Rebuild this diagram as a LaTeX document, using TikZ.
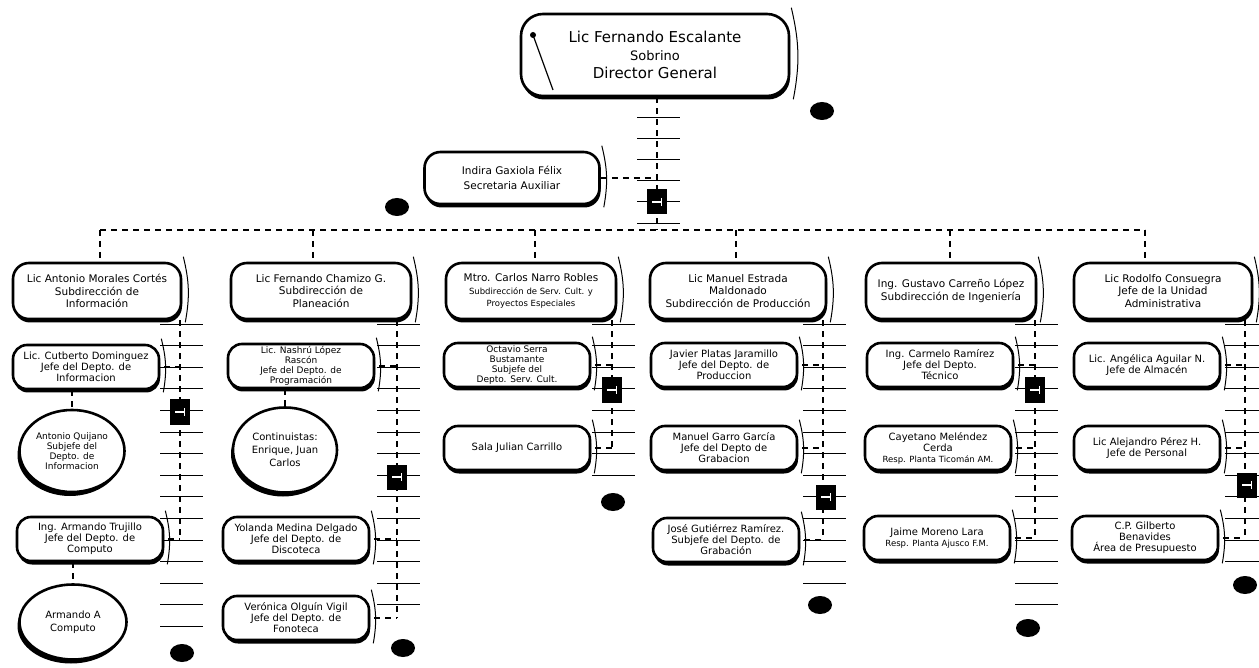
\documentclass[tikz,border=0pt]{standalone}
\usepackage{fontspec}
\setmainfont{DejaVu Sans}
\usetikzlibrary{shapes.geometric,shadows}

\begin{document}
\begin{tikzpicture}[x=1pt,y=-1pt,
 pill/.style={draw,fill=white,line width=2.6pt,rounded corners=16pt,align=center,inner sep=1pt,
  drop shadow={shadow xshift=1pt,shadow yshift=-3.5pt,fill=black,opacity=1}},
 subd/.style={pill,minimum width=170pt,minimum height=56pt,font=\fontsize{10.5}{12.5}\selectfont},
 jefe/.style={pill,minimum width=146pt,minimum height=44pt,rounded corners=14pt,font=\fontsize{10}{11}\selectfont},
 oval/.style={ellipse,draw,fill=white,line width=2.6pt,align=center,inner sep=0pt,font=\fontsize{9}{10}\selectfont,
  drop shadow={shadow xshift=-2pt,shadow yshift=-4pt,fill=black,opacity=1}},
 blob/.style={ellipse,fill=black,minimum width=24pt,minimum height=18pt,inner sep=0pt},
 gate/.style={fill=black,minimum width=20pt,minimum height=25pt,inner sep=0pt},
 conn/.style={line width=1.6pt,dash pattern=on 6pt off 5pt},
 rule/.style={line width=0.8pt},
 rim/.style={line width=1pt}]
\useasboundingbox (0,0) rectangle (1259,668);
% ruled ticks along the buses
\foreach \x/\n in {180/14,397/13,612/7,823/12,1035/13,1245/11}
 \foreach \k in {0,...,\n}
  \draw[rule] (\x-20,324+21.6*\k) -- (\x+23,324+21.6*\k);
\foreach \k in {0,...,5} \draw[rule] (637,117+21.2*\k) -- (680,117+21.2*\k);
% director and secretary
\node[pill,minimum width=268pt,minimum height=82pt,rounded corners=22pt,font=\fontsize{15}{18}\selectfont] (dg) at (655,55)
 {Lic Fernando Escalante\\{\fontsize{13}{18}\selectfont Sobrino}\\Director General};
\fill (533,35) circle (3pt);
\draw[line width=1.2pt] (533,35) -- (553,90);
\node[pill,minimum width=175pt,minimum height=52pt,font=\fontsize{10.5}{15}\selectfont] (sec) at (512,178)
 {Indira Gaxiola Félix\\Secretaria Auxiliar};
% subdirections
\node[subd,minimum width=168pt] (s1) at (97,291) {Lic Antonio Morales Cortés\\Subdirección de\\Información};
\node[subd,minimum width=180pt] (s2) at (321,291) {Lic Fernando Chamizo G.\\Subdirección de\\Planeación};
\node[subd] (s3) at (531,291) {Mtro. Carlos Narro Robles\\{\fontsize{8.5}{12}\selectfont Subdirección de Serv. Cult. y}\\{\fontsize{8.5}{12}\selectfont Proyectos Especiales}};
\node[subd,minimum width=176pt] (s4) at (738,291) {Lic Manuel Estrada\\Maldonado\\Subdirección de Producción};
\node[subd] (s5) at (951,291) {Ing. Gustavo Carreño López\\Subdirección de Ingeniería};
\node[subd,minimum width=178pt] (s6) at (1163,291) {Lic Rodolfo Consuegra\\Jefe de la Unidad\\Administrativa};
% departments
\node[jefe] (j1a) at (86,367) {Lic. Cutberto Dominguez\\Jefe del Depto. de\\Informacion};
\node[oval,minimum width=105pt,minimum height=82pt] (o1b) at (72,451) {Antonio Quijano\\Subjefe del\\Depto. de\\Informacion};
\node[jefe] (j1c) at (90,539) {Ing. Armando Trujillo\\Jefe del Depto. de\\Computo};
\node[oval,minimum width=107pt,minimum height=75pt,font=\fontsize{10}{13}\selectfont] (o1d) at (73,622) {Armando A\\Computo};
\node[jefe,font=\fontsize{9}{9.8}\selectfont] (j2a) at (301,366) {Lic. Nashrú López\\Rascón\\Jefe del Depto. de\\Programación};
\node[oval,minimum width=104pt,minimum height=85pt,font=\fontsize{10}{13}\selectfont] (o2b) at (285,450) {Continuistas:\\Enrique, Juan\\Carlos};
\node[jefe] (j2c) at (296,539) {Yolanda Medina Delgado\\Jefe del Depto. de\\Discoteca};
\node[jefe] (j2d) at (296,618) {Verónica Olguín Vigil\\Jefe del Depto. de\\Fonoteca};
\node[jefe,font=\fontsize{9}{9.8}\selectfont] (j3a) at (517,365) {Octavio Serra\\Bustamante\\Subjefe del\\Depto. Serv. Cult.};
\node[jefe] (j3b) at (517,448) {Sala Julian Carrillo};
\node[jefe] (j4a) at (724,365) {Javier Platas Jaramillo\\Jefe del Depto. de\\Produccion};
\node[jefe] (j4b) at (724,448) {Manuel Garro García\\Jefe del Depto de\\Grabacion};
\node[jefe] (j4c) at (726,540) {José Gutiérrez Ramírez.\\Subjefe del Depto. de\\Grabación};
\node[jefe] (j5a) at (940,365) {Ing. Carmelo Ramírez\\Jefe del Depto.\\Técnico};
\node[jefe] (j5b) at (938,448) {Cayetano Meléndez\\Cerda\\{\fontsize{8.5}{10}\selectfont Resp. Planta Ticomán AM.}};
\node[jefe] (j5c) at (937,538) {Jaime Moreno Lara\\{\fontsize{8.5}{11}\selectfont Resp. Planta Ajusco F.M.}};
\node[jefe] (j6a) at (1147,365) {Lic. Angélica Aguilar N.\\Jefe de Almacén};
\node[jefe] (j6b) at (1147,448) {Lic Alejandro Pérez H.\\Jefe de Personal};
\node[jefe] (j6c) at (1145,538) {C.P. Gilberto\\Benavides\\Área de Presupuesto};
% outer rims of the boxes
\foreach \n in {dg,sec,s1,s2,s3,s4,s5,s6,j1a,j1c,j2a,j2c,j2d,j3a,j3b,j4a,j4b,j4c,j5a,j5b,j5c,j6a,j6b,j6c}
 \draw[rim] ([xshift=1pt,yshift=5pt]\n.north east) to[bend left=12] ([xshift=3pt,yshift=-2pt]\n.south east);
% main dashed lines
\coordinate (hub) at (657,230);
\foreach \i/\x in {1/100,2/313,3/535,4/736,5/950,6/1145}
 \coordinate (sp\i) at (\x,230);
\draw[conn] (dg.south -| hub) -- (hub);
\draw[conn] (sec.east) -- (sec.east -| hub);
\draw[conn] (sp1) -- (sp6);
\foreach \i in {1,...,6} \draw[conn] (sp\i) -- (sp\i |- s\i.north);
% buses under each subdirection
\foreach \i/\x/\last in {1/180/j1c,2/397/j2d,3/612/j3b,4/823/j4c,5/1035/j5c,6/1245/j6c}{
 \coordinate (b\i) at (\x,0);
 \draw[conn] (b\i |- s\i.south) -- (b\i |- \last.east);
}
\foreach \n/\i in {j1a/1,j1c/1,j2a/2,j2c/2,j2d/2,j3a/3,j3b/3,j4a/4,j4b/4,j4c/4,j5a/5,j5b/5,j5c/5,j6a/6,j6b/6,j6c/6}
 \draw[conn] ([xshift=4pt]\n.east) -- (\n.east -| b\i);
\draw[conn] (j1a.south -| o1b.north) -- (o1b.north);
\draw[conn] (j1c.south -| o1d.north) -- (o1d.north);
\draw[conn] (j2a.south -| o2b.north) -- (o2b.north);
% black gates and dots
\foreach \x/\y [count=\i] in {180/412,397/477,612/390,826/497,1035/390,1247/485,657/202}{
 \node[gate] (g\i) at (\x,\y) {};
 \draw[white,line width=1.4pt] ([xshift=-5pt]g\i.center) -- ([xshift=4pt]g\i.center);
 \draw[white,line width=0.8pt] ([xshift=4pt,yshift=4pt]g\i.center) -- ([xshift=4pt,yshift=-4pt]g\i.center);
}
\foreach \x/\y [count=\i] in {822/111,397/207,182/653,403/648,613/502,820/605,1028/628,1245/585}
 \node[blob] (d\i) at (\x,\y) {};
\end{tikzpicture}
\end{document}
